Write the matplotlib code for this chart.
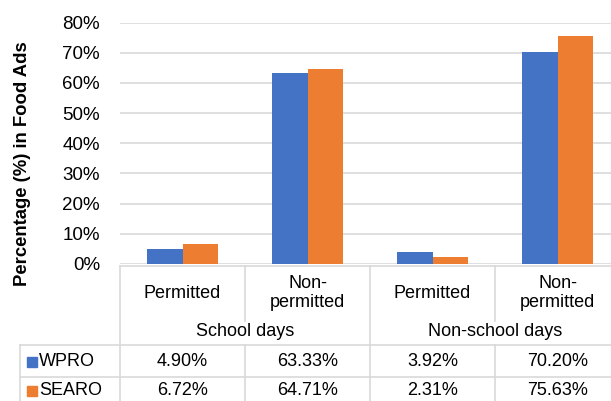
import matplotlib.pyplot as plt
from matplotlib.lines import Line2D
from matplotlib.patches import Rectangle
from matplotlib.transforms import blended_transform_factory
import numpy as np

plt.rcParams['font.family'] = ['Liberation Sans', 'DejaVu Sans']

categories = ["Permitted", "Non-\npermitted", "Permitted", "Non-\npermitted"]
groups = ["School days", "Non-school days"]
series_names = ["WPRO", "SEARO"]
wpro = [4.90, 63.33, 3.92, 70.20]
searo = [6.72, 64.71, 2.31, 75.63]
colors = ["#4472C4", "#ED7D31"]

W, H = 611, 401
fig = plt.figure(figsize=(W / 100, H / 100), dpi=100)


def fy(py):
    return 1 - py / H


def fx(px):
    return px / W


ax_left, ax_right = 120, 620
ax_top, ax_bot = 22.5, 264
ax = fig.add_axes([fx(ax_left), fy(ax_bot), (ax_right - ax_left) / W, (ax_bot - ax_top) / H])

x = np.arange(len(categories))
bw = 0.286
ax.bar(x - bw / 2, np.array(wpro) / 100, bw, color=colors[0], zorder=3)
ax.bar(x + bw / 2, np.array(searo) / 100, bw, color=colors[1], zorder=3)

ax.set_xlim(-0.5, 3.5)
ax.set_ylim(0, 0.8)
ax.set_yticks(np.arange(0, 0.81, 0.1))
ax.set_yticklabels([f"{int(round(v * 100))}%" for v in np.arange(0, 0.81, 0.1)], fontsize=13.5)
ax.set_xticks([])
ax.tick_params(axis='y', length=0, pad=14.4)
ax.grid(axis='y', color='#D9D9D9', linewidth=1.2, zorder=0)
for s in ax.spines.values():
    s.set_visible(False)

fig.text(fx(23), fy(164), "Percentage (%) in Food Ads", rotation=90, fontsize=13.3,
         fontweight='bold', ha='center', va='center')

# data table
tr = blended_transform_factory(ax.transData, fig.transFigure)
lc = '#D9D9D9'
lw = 1.2


def fline(x0, y0, x1, y1):
    fig.add_artist(Line2D([fx(x0), fx(x1)], [fy(y0), fy(y1)], color=lc, lw=lw,
                          transform=fig.transFigure))


# horizontal lines
fline(ax_left, 265.5, W, 265.5)
fline(20, 345, W, 345)
fline(20, 377, W, 377)
# vertical lines
fline(ax_left, 265.5, ax_left, H)
fline(20, 345, 20, H)
for i, b in enumerate([0.5, 1.5, 2.5]):
    px = ax_left + (b + 0.5) * (ax_right - ax_left) / 4
    if i == 1:
        fline(px, 265.5, px, H)
    else:
        fline(px, 265.5, px, 321)
        fline(px, 345, px, H)

for i, c in enumerate(categories):
    fig.text(x[i], fy(293), c, transform=tr, ha='center', va='center', fontsize=13,
             linespacing=1.08)
for g, gx in zip(groups, [0.5, 2.5]):
    fig.text(gx, fy(331), g, transform=tr, ha='center', va='center', fontsize=13)

for r, (name, vals, col) in enumerate(zip(series_names, [wpro, searo], colors)):
    yc = 361 + r * 29.5
    fig.add_artist(Rectangle((fx(27), fy(yc + 5.5)), 10 / W, 10 / H, color=col,
                             transform=fig.transFigure))
    fig.text(fx(39), fy(yc), name, ha='left', va='center', fontsize=13)
    for i, v in enumerate(vals):
        fig.text(x[i], fy(yc), f"{v:.2f}%", transform=tr, ha='center', va='center', fontsize=13)

fig.savefig("out.png", dpi=100)
